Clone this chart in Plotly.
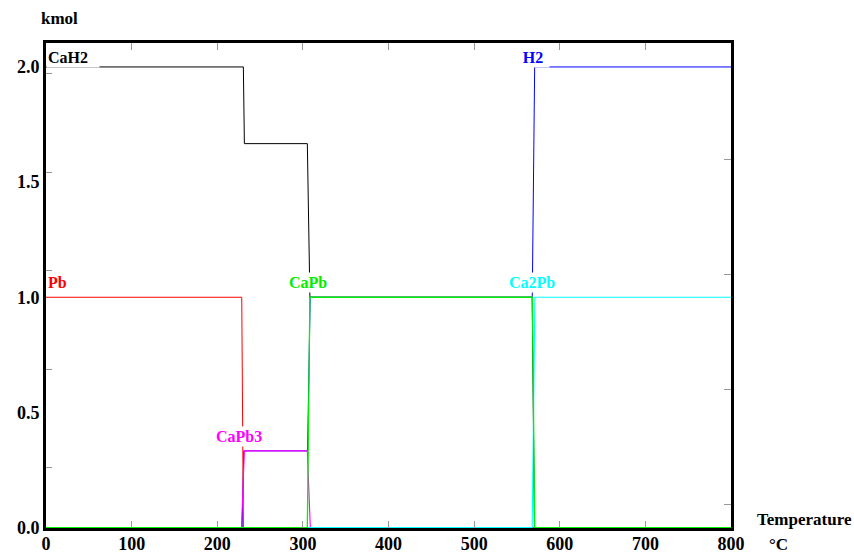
import plotly.graph_objects as go

# ---- data (temperature in °C, amount in kmol) ----
T_CaH2 = [0, 230.5, 231.7, 305.2, 308.2, 567.8, 570.5, 800]
Y_CaH2 = [2.0, 2.0, 1.667, 1.667, 1.0, 1.0, 0.0, 0.0]

T_H2 = [0, 229.0, 231.0, 305.5, 308.5, 567.9, 570.7, 800]
Y_H2 = [0.0, 0.0, 0.333, 0.333, 1.0, 1.0, 2.0, 2.0]

T_Pb = [0, 228.6, 230.5, 800]
Y_Pb = [1.0, 1.0, 0.0, 0.0]

T_CaPb3 = [0, 228.3, 231.7, 305.2, 308.7, 800]
Y_CaPb3 = [0.0, 0.0, 0.333, 0.333, 0.0, 0.0]

T_Ca2Pb = [0, 567.8, 571.0, 800]
Y_Ca2Pb = [0.0, 0.0, 1.0, 1.0]

T_CaPb = [0, 305.2, 308.2, 568.0, 570.7, 800]
Y_CaPb = [0.0, 0.0, 1.0, 1.0, 0.0, 0.0]

x_ticks = [0, 100, 200, 300, 400, 500, 600, 700, 800]
y_ticks = [0.0, 0.5, 1.0, 1.5, 2.0]
y_ticklabels = ["0.0", "0.5", "1.0", "1.5", "2.0"]
left_minor = [0.259, 0.687, 1.116, 1.541, 1.970]
right_minor = [0.1, 0.6, 1.1, 1.6]

FONT = "Liberation Serif, Times New Roman, serif"
Y_RANGE = [-0.002, 2.104]

series = [
    ("CaH2", T_CaH2, Y_CaH2, "#000000", 1.0),
    ("H2", T_H2, Y_H2, "#0000ff", 1.0),
    ("Pb", T_Pb, Y_Pb, "#ff0000", 1.0),
    ("CaPb3", T_CaPb3, Y_CaPb3, "#ff00ff", 1.1),
    ("Ca2Pb", T_Ca2Pb, Y_Ca2Pb, "#00ffff", 1.1),
    ("CaPb", T_CaPb, Y_CaPb, "#00ee00", 1.3),
]

fig = go.Figure()
for name, t, y, c, w in series:
    fig.add_trace(go.Scatter(x=t, y=y, mode="lines", name=name,
                             line=dict(color=c, width=w), showlegend=False,
                             hoverinfo="skip"))
# invisible traces to anchor the tick-only overlay axes
fig.add_trace(go.Scatter(x=[None], y=[None], yaxis="y2", showlegend=False, hoverinfo="skip"))
fig.add_trace(go.Scatter(x=[None], y=[None], yaxis="y3", showlegend=False, hoverinfo="skip"))

fig.update_layout(
    width=854, height=554,
    margin=dict(l=46, r=123, t=43, b=26),
    paper_bgcolor="white", plot_bgcolor="white",
    font=dict(family=FONT, color="black"),
    xaxis=dict(range=[0, 800], tickvals=x_ticks, ticks="inside", ticklen=7,
               tickcolor="#999999", tickwidth=1, showline=True, linewidth=3,
               linecolor="black", mirror="ticks", showgrid=False, zeroline=False,
               automargin=False, ticklabelstandoff=-3,
               tickfont=dict(family=FONT, size=18, weight="bold", color="black")),
    yaxis=dict(range=Y_RANGE, tickvals=y_ticks, ticktext=y_ticklabels, ticks="",
               showline=True, linewidth=3, linecolor="black", mirror=True,
               showgrid=False, zeroline=False, automargin=False,
               tickfont=dict(family=FONT, size=18, weight="bold", color="black")),
    yaxis2=dict(range=Y_RANGE, overlaying="y", side="left", tickvals=left_minor,
                ticks="inside", ticklen=6, tickcolor="#999999", showticklabels=False,
                showgrid=False, zeroline=False, showline=False, automargin=False),
    yaxis3=dict(range=Y_RANGE, overlaying="y", side="right", tickvals=right_minor,
                ticks="inside", ticklen=7, tickcolor="#999999", showticklabels=False,
                showgrid=False, zeroline=False, showline=False, automargin=False),
)

def lab(text, x, y, color, xanchor="left", width=None, align="center"):
    fig.add_annotation(x=x, y=y, xref="x", yref="y", text=text, showarrow=False,
                       xanchor=xanchor, yanchor="middle", bgcolor="white",
                       borderpad=1, width=width, align=align,
                       font=dict(family=FONT, size=16, weight="bold", color=color))

lab("CaH2", 0.0, 2.04, "#000000", width=50, align="left")
lab("H2", 549, 2.04, "#0000ff", width=30)
lab("Pb", 0.0, 1.063, "#ff0000")
lab("CaPb", 306.5, 1.063, "#00ee00", xanchor="center")
lab("Ca2Pb", 567.6, 1.063, "#00ffff", xanchor="center")
lab("CaPb3", 225.5, 0.395, "#ff00ff", xanchor="center")

def ptxt(text, x, y, xanchor, size=17):
    fig.add_annotation(x=x, y=y, xref="paper", yref="paper", text=text, showarrow=False,
                       xanchor=xanchor, yanchor="middle",
                       font=dict(family=FONT, size=size, weight="bold", color="black"))

ptxt("kmol", -0.01, 1.0515, "left")
ptxt("Temperature", 1.035, 0.0165, "left")
ptxt("°C", 1.052, -0.035, "left")

fig.write_html("out.html")
